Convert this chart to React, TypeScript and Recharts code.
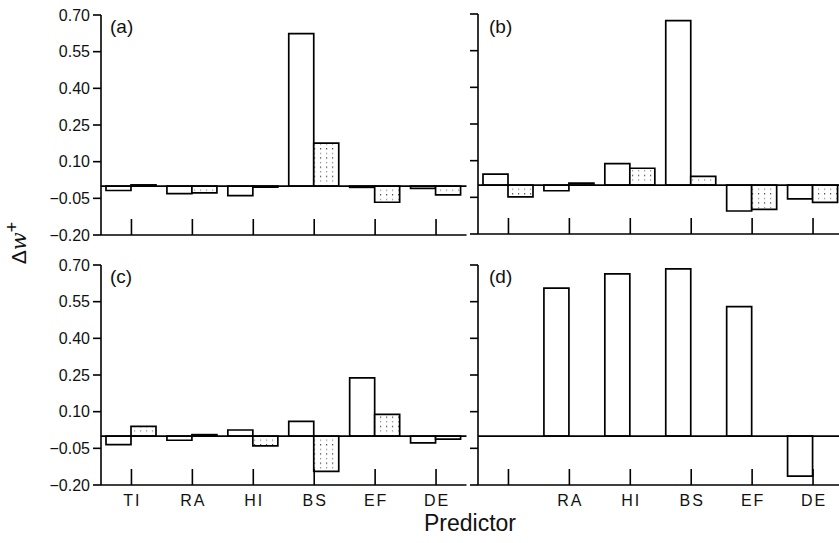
import React from 'react';
import { BarChart, Bar, XAxis, YAxis, ReferenceLine } from 'recharts';

const categories = ['TI', 'RA', 'HI', 'BS', 'EF', 'DE'];
const labelsBottomLeft = ['TI', 'RA', 'HI', 'BS', 'EF', 'DE'];
const labelsBottomRight = ['', 'RA', 'HI', 'BS', 'EF', 'DE'];
const yTicks = [-0.2, -0.05, 0.1, 0.25, 0.4, 0.55, 0.7];

const aWhite = [-0.018, -0.031, -0.039, 0.624, -0.005, -0.009];
const aDotted = [0.005, -0.028, -0.004, 0.176, -0.066, -0.036];
const bWhite = [0.045, -0.023, 0.088, 0.673, -0.106, -0.056];
const bDotted = [-0.048, 0.008, 0.069, 0.036, -0.099, -0.071];
const cWhite = [-0.035, -0.017, 0.025, 0.06, 0.238, -0.028];
const cDotted = [0.04, 0.006, -0.04, -0.144, 0.089, -0.012];
const dWhite = [null, 0.605, 0.664, 0.684, 0.53, -0.164];
const dDotted = [null, null, null, null, null, null];

const FONT = '"Liberation Sans", Arial, Helvetica, sans-serif';

const build = (w: (number | null)[], d: (number | null)[]) =>
  categories.map((c, i) => ({ cat: c, white: w[i], dotted: d[i] }));

const fmt = (v: number) => (v < 0 ? '\u2212' + Math.abs(v).toFixed(2) : v.toFixed(2));

const makeTick = (labels: string[] | null) => (props: any) => {
  const { x, y, index } = props;
  const lab = labels ? labels[index] : '';
  return (
    <g>
      <line x1={x} x2={x} y1={y} y2={y - 16} stroke="#000" strokeWidth={1.6} />
      {lab ? (
        <text
          x={x + 1}
          y={y + 15}
          textAnchor="middle"
          dominantBaseline="central"
          fontFamily={FONT}
          fontSize={16}
          letterSpacing={2}
          fill="#111"
        >
          {lab}
        </text>
      ) : null}
    </g>
  );
};

type PanelProps = {
  data: any[];
  left: number;
  top: number;
  yAxisWidth: number;
  showYLabels: boolean;
  labels: string[] | null;
};

const Panel = ({ data, left, top, yAxisWidth, showYLabels, labels }: PanelProps) => {
  const plotW = 365.5;
  const plotH = 220;
  const xAxisH = 40;
  return (
    <div style={{ position: 'absolute', left, top }}>
      <BarChart
        width={yAxisWidth + plotW}
        height={15 + plotH + xAxisH}
        data={data}
        margin={{ top: 15, right: 0, bottom: 0, left: 0 }}
        barGap={0}
        barSize={25}
      >
        <XAxis
          dataKey="cat"
          height={xAxisH}
          axisLine={{ stroke: '#000', strokeWidth: 1.6 }}
          tickLine={false}
          tickSize={0}
          tickMargin={0}
          interval={0}
          tick={makeTick(labels)}
        />
        <YAxis
          width={yAxisWidth}
          domain={[-0.2, 0.7]}
          ticks={yTicks}
          allowDataOverflow
          interval={0}
          axisLine={{ stroke: '#000', strokeWidth: 1.6 }}
          tickLine={{ stroke: '#000', strokeWidth: 1.6 }}
          tickSize={8}
          tickMargin={3}
          tickFormatter={showYLabels ? fmt : () => ''}
          tick={{ fill: '#111', fontSize: 16, fontFamily: FONT }}
        />
        <ReferenceLine y={0} stroke="#000" strokeWidth={1.6} ifOverflow="extendDomain" />
        <Bar dataKey="white" fill="#fff" stroke="#000" strokeWidth={1.7} isAnimationActive={false} />
        <Bar dataKey="dotted" fill="url(#dots)" stroke="#000" strokeWidth={1.7} isAnimationActive={false} />
      </BarChart>
    </div>
  );
};

export default function App() {
  return (
    <div
      style={{
        position: 'absolute',
        left: 0,
        top: 0,
        width: 839,
        height: 543,
        overflow: 'hidden',
        background: '#fff',
      }}
    >
      <svg width={0} height={0} style={{ position: 'absolute' }}>
        <defs>
          <pattern id="dots" patternUnits="userSpaceOnUse" width={6} height={9.2}>
            <rect width={6} height={9.2} fill="#fff" />
            <rect x={2} y={1} width={1.2} height={1.2} fill="#333" />
            <rect x={2} y={5.6} width={1.2} height={1.2} fill="#888" />
          </pattern>
        </defs>
      </svg>
      <Panel data={build(aWhite, aDotted)} left={0} top={0} yAxisWidth={101} showYLabels labels={null} />
      <Panel data={build(bWhite, bDotted)} left={420} top={-1} yAxisWidth={58} showYLabels={false} labels={null} />
      <Panel data={build(cWhite, cDotted)} left={0} top={250} yAxisWidth={101} showYLabels labels={labelsBottomLeft} />
      <Panel data={build(dWhite, dDotted)} left={420} top={250} yAxisWidth={58} showYLabels={false} labels={labelsBottomRight} />
      <svg
        width={839}
        height={543}
        style={{ position: 'absolute', left: 0, top: 0, pointerEvents: 'none' }}
      >
        <g fontFamily={FONT} fill="#111">
          <text x={110} y={33} fontSize={19}>(a)</text>
          <text x={489} y={33} fontSize={19}>(b)</text>
          <text x={110} y={283} fontSize={19}>(c)</text>
          <text x={489} y={283} fontSize={19}>(d)</text>
          <text x={470} y={531} fontSize={23} textAnchor="middle">Predictor</text>
          <text
            transform="translate(26,243) rotate(-90)"
            textAnchor="middle"
            fontSize={21}
          >
            <tspan>Δ</tspan>
            <tspan fontStyle="italic" fontFamily='"DejaVu Serif", serif'>w</tspan>
            <tspan dy={-8} fontSize={18}>+</tspan>
          </text>
        </g>
      </svg>
    </div>
  );
}
